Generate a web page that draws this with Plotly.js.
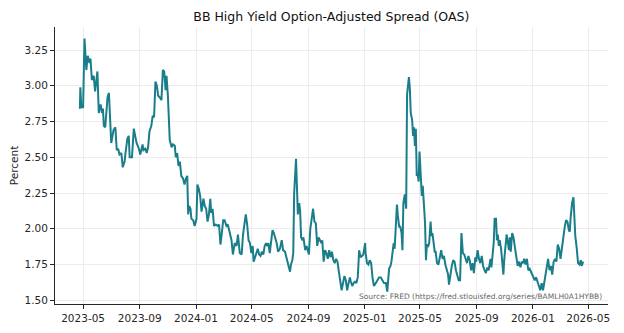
<!DOCTYPE html>
<html>
<head>
<meta charset="utf-8">
<script src="https://cdn.plot.ly/plotly-3.0.1.min.js"></script>
<style>
  html, body { margin: 0; padding: 0; background: #ffffff; }
  #chart { width: 624px; height: 333px; }
</style>
</head>
<body>
<div id="chart"></div>
<script>
// ICE BofA BB US High Yield Index, option-adjusted spread (percent)
const dates = [
  "2023-04-24","2023-04-25","2023-04-27","2023-05-01","2023-05-04","2023-05-08","2023-05-11","2023-05-15","2023-05-17","2023-05-20",
  "2023-05-24","2023-05-27","2023-06-01","2023-06-02","2023-06-04","2023-06-08","2023-06-11","2023-06-13","2023-06-15","2023-06-18",
  "2023-06-23","2023-06-26","2023-06-28","2023-07-01","2023-07-06","2023-07-10","2023-07-13","2023-07-16","2023-07-19","2023-07-23",
  "2023-07-26","2023-07-30","2023-08-01","2023-08-05","2023-08-08","2023-08-10","2023-08-15","2023-08-19","2023-08-22","2023-08-25",
  "2023-08-30","2023-09-02","2023-09-07","2023-09-09","2023-09-13","2023-09-16","2023-09-19","2023-09-22","2023-09-26","2023-09-29",
  "2023-10-02","2023-10-05","2023-10-08","2023-10-11","2023-10-14","2023-10-18","2023-10-21","2023-10-24","2023-10-27","2023-10-29",
  "2023-11-01","2023-11-05","2023-11-09","2023-11-12","2023-11-16","2023-11-18","2023-11-21","2023-11-24","2023-11-27","2023-11-30",
  "2023-12-04","2023-12-07","2023-12-10","2023-12-13","2023-12-15","2023-12-17","2023-12-20","2023-12-22","2023-12-26","2023-12-29",
  "2024-01-02","2024-01-04","2024-01-07","2024-01-10","2024-01-13","2024-01-17","2024-01-20","2024-01-23","2024-01-26","2024-01-29",
  "2024-02-01","2024-02-03","2024-02-06","2024-02-09","2024-02-13","2024-02-17","2024-02-20","2024-02-23","2024-02-26","2024-02-29",
  "2024-03-03","2024-03-07","2024-03-10","2024-03-14","2024-03-18","2024-03-21","2024-03-25","2024-03-29","2024-04-01","2024-04-05",
  "2024-04-09","2024-04-12","2024-04-15","2024-04-18","2024-04-21","2024-04-24","2024-04-27","2024-04-30","2024-05-03","2024-05-05",
  "2024-05-08","2024-05-11","2024-05-14","2024-05-17","2024-05-20","2024-05-23","2024-05-26","2024-05-29","2024-06-01","2024-06-03",
  "2024-06-06","2024-06-09","2024-06-12","2024-06-15","2024-06-18","2024-06-21","2024-06-24","2024-06-27","2024-07-01","2024-07-05",
  "2024-07-08","2024-07-12","2024-07-16","2024-07-19","2024-07-23","2024-07-25","2024-07-28","2024-07-30","2024-08-01","2024-08-05",
  "2024-08-07","2024-08-09","2024-08-12","2024-08-14","2024-08-16","2024-08-19","2024-08-21","2024-08-25","2024-08-28","2024-08-31",
  "2024-09-02","2024-09-05","2024-09-08","2024-09-11","2024-09-14","2024-09-17","2024-09-20","2024-09-23","2024-09-26","2024-09-29",
  "2024-10-01","2024-10-04","2024-10-07","2024-10-10","2024-10-13","2024-10-16","2024-10-19","2024-10-22","2024-10-25","2024-10-28",
  "2024-10-31","2024-11-03","2024-11-06","2024-11-09","2024-11-12","2024-11-15","2024-11-18","2024-11-21","2024-11-24","2024-11-27",
  "2024-11-30","2024-12-02","2024-12-05","2024-12-08","2024-12-11","2024-12-14","2024-12-17","2024-12-20","2024-12-23","2024-12-26",
  "2024-12-29","2025-01-02","2025-01-03","2025-01-06","2025-01-09","2025-01-12","2025-01-15","2025-01-18","2025-01-21","2025-01-25",
  "2025-01-29","2025-02-01","2025-02-05","2025-02-09","2025-02-12","2025-02-16","2025-02-19","2025-02-23","2025-02-26","2025-02-28",
  "2025-03-02","2025-03-05","2025-03-07","2025-03-09","2025-03-12","2025-03-14","2025-03-17","2025-03-19","2025-03-22","2025-03-24",
  "2025-03-26","2025-03-29","2025-04-01","2025-04-03","2025-04-05","2025-04-07","2025-04-09","2025-04-11","2025-04-14","2025-04-16",
  "2025-04-18","2025-04-20","2025-04-22","2025-04-24","2025-04-26","2025-04-28","2025-04-30","2025-05-03","2025-05-05","2025-05-07",
  "2025-05-09","2025-05-12","2025-05-14","2025-05-16","2025-05-19","2025-05-21","2025-05-24","2025-05-26","2025-05-28","2025-05-30",
  "2025-06-02","2025-06-04","2025-06-07","2025-06-10","2025-06-13","2025-06-16","2025-06-19","2025-06-22","2025-06-25","2025-06-28",
  "2025-07-01","2025-07-03","2025-07-06","2025-07-09","2025-07-12","2025-07-15","2025-07-18","2025-07-21","2025-07-24","2025-07-27",
  "2025-07-30","2025-08-02","2025-08-05","2025-08-08","2025-08-11","2025-08-14","2025-08-17","2025-08-20","2025-08-23","2025-08-26",
  "2025-08-29","2025-08-31","2025-09-03","2025-09-06","2025-09-09","2025-09-12","2025-09-15","2025-09-18","2025-09-21","2025-09-24",
  "2025-09-27","2025-10-01","2025-10-03","2025-10-08","2025-10-10","2025-10-13","2025-10-15","2025-10-17","2025-10-19","2025-10-21",
  "2025-10-24","2025-10-27","2025-10-29","2025-10-31","2025-11-03","2025-11-05","2025-11-07","2025-11-10","2025-11-12","2025-11-14",
  "2025-11-17","2025-11-20","2025-11-23","2025-11-26","2025-11-29","2025-12-02","2025-12-05","2025-12-08","2025-12-11","2025-12-13",
  "2025-12-16","2025-12-19","2025-12-22","2025-12-25","2025-12-28","2025-12-31","2026-01-02","2026-01-05","2026-01-08","2026-01-11",
  "2026-01-14","2026-01-17","2026-01-20","2026-01-23","2026-01-26","2026-01-29","2026-02-01","2026-02-03","2026-02-06","2026-02-09",
  "2026-02-12","2026-02-15","2026-02-18","2026-02-21","2026-02-24","2026-02-27","2026-03-02","2026-03-05","2026-03-08","2026-03-11",
  "2026-03-14","2026-03-17","2026-03-20","2026-03-22","2026-03-24","2026-03-27","2026-03-30","2026-04-01","2026-04-03","2026-04-06",
  "2026-04-09","2026-04-12","2026-04-15","2026-04-17","2026-04-20"
];

const spread = [
  2.84,2.99,2.85,2.85,3.33,3.11,3.21,3.16,3.19,3.04,
  3.07,2.96,3.10,2.95,2.81,2.87,2.81,2.84,2.72,2.71,
  2.92,2.95,2.79,2.60,2.69,2.71,2.55,2.56,2.52,2.53,
  2.43,2.47,2.53,2.63,2.65,2.50,2.50,2.70,2.65,2.60,
  2.56,2.52,2.59,2.55,2.56,2.53,2.57,2.68,2.72,2.79,
  2.78,3.03,3.00,2.93,2.92,2.90,3.11,3.10,2.97,3.07,
  2.93,2.62,2.57,2.59,2.58,2.50,2.53,2.44,2.47,2.37,
  2.35,2.31,2.35,2.37,2.10,2.16,2.14,2.07,2.06,2.02,
  2.07,2.31,2.28,2.23,2.12,2.21,2.16,2.14,2.05,2.10,
  2.21,2.11,2.14,2.02,2.03,2.02,2.03,1.89,1.97,2.06,
  2.06,2.02,2.03,1.98,1.92,1.82,1.90,1.88,1.96,1.83,
  1.82,1.96,2.02,2.10,2.03,1.92,1.90,1.83,1.88,1.77,
  1.80,1.84,1.86,1.82,1.81,1.84,1.82,1.88,1.90,1.88,
  1.90,1.83,1.90,1.99,1.97,1.94,1.90,1.84,1.86,1.92,
  1.85,1.84,1.78,1.76,1.70,1.75,1.78,1.83,2.25,2.49,
  2.33,2.10,2.18,2.12,1.94,1.92,1.94,1.85,1.88,1.83,
  1.82,2.00,2.06,2.14,2.05,2.04,1.88,1.94,1.92,1.90,
  1.92,1.77,1.85,1.83,1.79,1.85,1.80,1.84,1.78,1.76,
  1.79,1.77,1.70,1.64,1.57,1.62,1.67,1.64,1.57,1.62,
  1.66,1.63,1.60,1.62,1.63,1.62,1.66,1.85,1.80,1.81,
  1.82,1.90,1.83,1.76,1.75,1.78,1.76,1.66,1.60,1.62,
  1.65,1.66,1.66,1.64,1.62,1.62,1.56,1.72,1.74,1.77,
  1.81,1.90,1.86,2.04,2.17,2.09,2.01,2.02,1.97,1.85,
  2.18,2.24,2.14,2.94,3.00,3.06,2.98,2.81,2.76,2.65,
  2.71,2.58,2.70,2.37,2.39,2.33,2.54,2.34,2.23,2.30,
  2.16,2.04,1.78,1.89,1.88,1.90,2.05,1.95,1.97,1.90,
  1.84,1.84,1.76,1.75,1.79,1.85,1.79,1.81,1.75,1.71,
  1.68,1.61,1.69,1.74,1.78,1.77,1.71,1.67,1.64,1.64,
  1.97,1.83,1.82,1.79,1.76,1.81,1.78,1.71,1.76,1.69,
  1.80,1.77,1.85,1.79,1.76,1.81,1.74,1.71,1.69,1.73,
  1.71,1.79,1.73,1.90,2.07,2.07,1.92,1.96,1.88,1.92,
  1.86,1.75,1.68,1.79,1.89,1.96,1.92,1.85,1.94,1.84,
  1.97,1.94,1.87,1.79,1.74,1.77,1.73,1.77,1.76,1.79,
  1.75,1.79,1.71,1.72,1.70,1.68,1.67,1.64,1.66,1.62,
  1.60,1.57,1.62,1.57,1.64,1.68,1.77,1.79,1.71,1.74,
  1.68,1.77,1.79,1.77,1.89,1.86,1.79,1.87,1.92,2.01,
  2.06,2.05,1.99,1.98,2.08,2.18,2.22,2.01,1.95,1.87,
  1.76,1.75,1.78,1.74,1.77
];

const chartTitle = "BB High Yield Option-Adjusted Spread (OAS)";
const yLabel = "Percent";
const sourceNote = "Source: FRED (https://fred.stlouisfed.org/series/BAMLH0A1HYBB)";

const font = "DejaVu Sans, Verdana, sans-serif";
const ink = "#262626";

const trace = {
  x: dates,
  y: spread,
  type: "scatter",
  mode: "lines",
  line: { color: "#1a7d8a", width: 2 },
  hoverinfo: "x+y"
};

const layout = {
  width: 624,
  height: 333,
  margin: { l: 55, r: 16, t: 27, b: 29 },
  paper_bgcolor: "#ffffff",
  plot_bgcolor: "#ffffff",
  showlegend: false,
  font: { family: font, color: ink, size: 10 },
  title: {
    text: chartTitle,
    font: { family: font, size: 12.5, color: "#111111" },
    x: 0.531, xanchor: "center",
    y: 0.95, yanchor: "middle"
  },
  xaxis: {
    type: "date",
    range: ["2023-03-01", "2026-06-13"],
    tick0: "2023-01-01",
    dtick: "M4",
    tickformat: "%Y-%m",
    ticks: "outside",
    ticklen: 4,
    tickwidth: 1,
    tickcolor: ink,
    tickfont: { family: font, size: 10.5, color: ink },
    showline: true,
    linecolor: ink,
    linewidth: 1,
    showgrid: true,
    gridcolor: "#ececec",
    gridwidth: 1,
    zeroline: false
  },
  yaxis: {
    range: [1.474, 3.411],
    tickvals: [1.5, 1.75, 2.0, 2.25, 2.5, 2.75, 3.0, 3.25],
    ticktext: ["1.50", "1.75", "2.00", "2.25", "2.50", "2.75", "3.00", "3.25"],
    ticks: "outside",
    ticklen: 4,
    tickwidth: 1,
    tickcolor: ink,
    tickfont: { family: font, size: 10.5, color: ink },
    showline: true,
    linecolor: ink,
    linewidth: 1,
    showgrid: true,
    gridcolor: "#ececec",
    gridwidth: 1,
    zeroline: false,
    title: { text: yLabel, font: { family: font, size: 10.5, color: ink }, standoff: 3 }
  },
  annotations: [{
    text: sourceNote,
    xref: "paper", yref: "paper",
    x: 0.993, y: 0.005,
    xanchor: "right", yanchor: "bottom",
    showarrow: false,
    font: { family: font, size: 7.5, color: "#666666" }
  }]
};

Plotly.newPlot("chart", [trace], layout, { displayModeBar: false, staticPlot: true });
</script>
</body>
</html>
